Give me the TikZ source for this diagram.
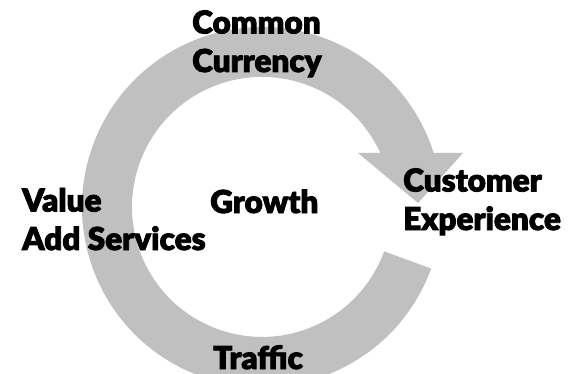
\documentclass[tikz,border=0pt]{standalone}
\usepackage{fontspec}
\newfontfamily\heavy{Lato Black}[FakeBold=2.6]
\definecolor{ringgray}{RGB}{192,192,192}
\begin{document}
\begin{tikzpicture}[x=1pt,y=-1pt,
  lbl/.style={anchor=base west,inner sep=0pt,align=left,
    font=\heavy\fontsize{31.5}{38.5}\selectfont,text=black}]
\useasboundingbox (0,0) rectangle (586,374);
% circular arrow: outer radius 180, inner radius 130
\coordinate (c) at (262,207);
\fill[ringgray] (c) ++(20:180) arc[start angle=20,end angle=342.5,radius=180]
  -- (463,153) -- (418,203) -- (358,153) -- (380.3,153)
  arc[start angle=335.5,end angle=20,radius=130] -- cycle;
% two-line labels are placed by the baseline of their last line
\node[lbl] (currency) at (192,72) {Common\\Currency};
\node[lbl] (customer) at (403,230) {Customer\\Experience};
\node[lbl] (value) at (22,250) {Value\\Add Services};
\node[lbl] (growth) at (210,213) {Growth};
\node[lbl] (traffic) at (213,369) {Traffic};
\end{tikzpicture}
\end{document}
